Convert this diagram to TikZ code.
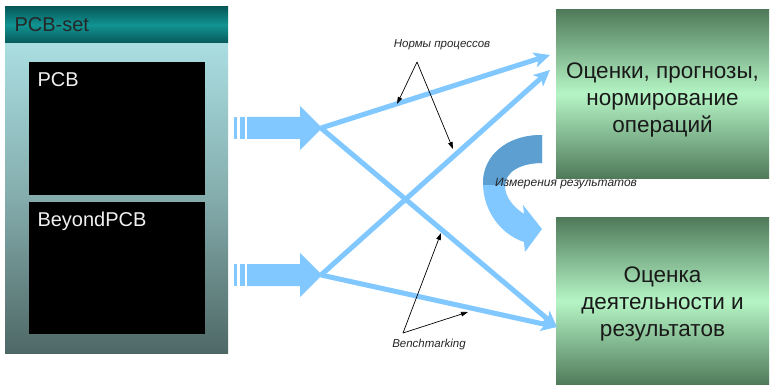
\documentclass[tikz,border=0pt]{standalone}
\usepackage{fontspec}
\setmainfont{Liberation Sans}
\usetikzlibrary{arrows.meta}
\definecolor{hdDark}{HTML}{07595A}
\definecolor{hdMid}{HTML}{119391}
\definecolor{pnTop}{HTML}{AADEE1}
\definecolor{pnMid}{HTML}{84ACAC}
\definecolor{pnBot}{HTML}{4E6866}
\definecolor{blueA}{HTML}{80C8FF}
\definecolor{blueD}{HTML}{5C9FD0}
\definecolor{grDark}{HTML}{4F7A5A}
\definecolor{grLight}{HTML}{B5F5C5}
\tikzset{
  blackbox/.style={fill=black, draw=none, minimum width=176pt, anchor=north west, inner sep=0pt},
  whitelabel/.style={anchor=west, text=white!94!black, font=\fontsize{20}{24}\selectfont},
  greenbox/.style={top color=grDark, bottom color=grDark, middle color=grLight, draw=none,
     minimum width=213pt, minimum height=169pt, anchor=north west, inner sep=0pt},
  greentext/.style={align=center, text=black!90, font=\fontsize{22.5}{27}\selectfont},
  bline/.style={draw=blueA, line width=5pt, -{Stealth[length=16pt,width=15pt,inset=4pt]}},
  ann/.style={draw=black, line width=0.7pt, -{Triangle[length=7pt,width=4.5pt]}},
  anntext/.style={font=\itshape\fontsize{11.5}{13}\selectfont, text=black!85},
}
\begin{document}
\begin{tikzpicture}[x=1pt,y=-1pt]
\useasboundingbox (0,0) rectangle (771,385);
\fill[white] (0,0) rectangle (771,385);

% left panel
\shade[top color=pnTop, bottom color=pnBot, middle color=pnMid] (5,43) rectangle (228,353);
\shade[top color=hdDark, bottom color=hdDark, middle color=hdMid] (5,7) rectangle (228,43);
\node[anchor=west, text=black!85, font=\fontsize{20}{24}\selectfont] (hdr) at (11,25) {PCB-set};

\node[blackbox, minimum height=133pt] (pcb) at (29,62) {};
\node[whitelabel] (pcbl) at (34,80) {PCB};
\node[blackbox, minimum height=132pt] (bpcb) at (29,202) {};
\node[whitelabel] (bpcbl) at (34,221) {BeyondPCB};

% green boxes
\node[greenbox] (up) at (556,9) {};
\node[greentext] (uptext) at (662.5,100) {Оценки, прогнозы,\\нормирование\\операций};
\node[greenbox, minimum height=168pt] (lo) at (556,217) {};
\node[greentext] (lotext) at (662.5,303.5) {Оценка\\деятельности и\\результатов};

% coordinates
\coordinate (tipA) at (321,128);
\coordinate (tipB) at (321,275);
\coordinate (endA) at (550,55);
\coordinate (endB) at (550,70);
\coordinate (endC) at (557,327);

% thick blue lines
\draw[bline] (tipA) -- (endA);
\draw[bline] (tipA) -- (endC);
\draw[bline] (tipB) -- (endB);
\draw[bline] (tipB) -- (endC);

% block arrows
\foreach \cy in {128,275}{
  \fill[blueA] (234,\cy-11) rectangle (237,\cy+11);
  \fill[blueA] (239.5,\cy-11) rectangle (244.5,\cy+11);
  \fill[blueA] (247,\cy-11) -- (300,\cy-11) -- (300,\cy-22) -- (322,\cy) -- (300,\cy+22) -- (300,\cy+11) -- (247,\cy+11) -- cycle;
}

% curved arrow
\def\curvedshape{(542,135) .. controls (505,135) and (483,157) .. (483,183)
   .. controls (483,210) and (500,234) .. (524,242)
   -- (525,252) -- (542,229) -- (523,205) -- (524,214)
   .. controls (512,206) and (505,196) .. (505,186)
   .. controls (505,172) and (520,163) .. (542,163) -- cycle}
\fill[blueA] \curvedshape;
\begin{scope}
  \clip (470,120) rectangle (560,184);
  \fill[blueD] \curvedshape;
\end{scope}

% annotations
\node[anntext] (norms) at (442,45) {Нормы процессов};
\coordinate (nsrc) at (417,62);
\coordinate (n1) at (397,104);
\coordinate (n2) at (453,149);
\draw[ann] (nsrc) -- (n1);
\draw[ann] (nsrc) -- (n2);

\node[anntext] (bench) at (429,345) {Benchmarking};
\coordinate (bsrc) at (403,333);
\coordinate (b1) at (441,233);
\coordinate (b2) at (468,312);
\draw[ann] (bsrc) -- (b1);
\draw[ann] (bsrc) -- (b2);

\node[font=\itshape\fontsize{12}{14}\selectfont, text=black!85] (meas) at (566,184) {Измерения результатов};
\end{tikzpicture}
\end{document}
